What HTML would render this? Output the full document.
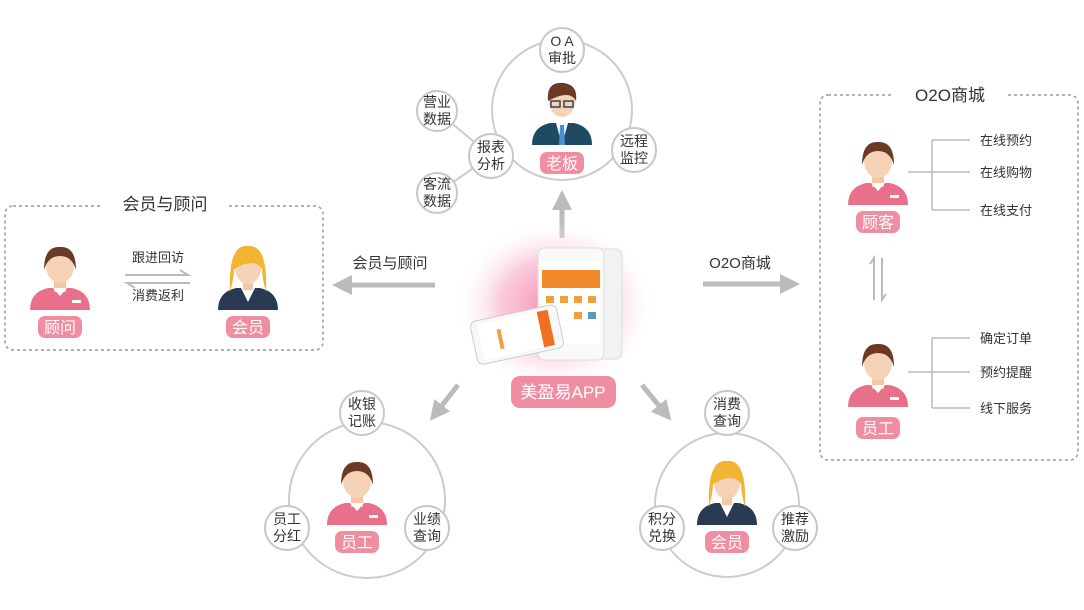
<!DOCTYPE html>
<html><head><meta charset="utf-8"><style>
body{margin:0;background:#fff}
svg{display:block;font-family:"Liberation Sans","Noto Sans CJK SC",sans-serif}
</style></head><body>
<svg width="1084" height="610" viewBox="0 0 1084 610">
<defs>
<radialGradient id="glow"><stop offset="0" stop-color="#f48ab0" stop-opacity="1"/><stop offset=".55" stop-color="#f9bfd4" stop-opacity=".8"/><stop offset="1" stop-color="#fff" stop-opacity="0"/></radialGradient>
<marker id="ah" markerWidth="4" markerHeight="4" refX="2" refY="2" orient="auto" markerUnits="strokeWidth"><path d="M0,0 L4,2 L0,4z" fill="#bbb"/></marker>
<g id="woman"><path d="M-30,30 Q-30,12 -12,8 L12,8 Q30,12 30,30z" fill="#e8708a"/><rect x="-6" y="0" width="12" height="12" fill="#f4c6a6"/><path d="M-7,8 L0,16 L7,8z" fill="#fff"/><ellipse cx="0" cy="-14" rx="14" ry="17" fill="#f6d2b6"/><path d="M-16,-10 Q-16,-34 0,-33 Q16,-34 16,-10 Q12,-24 0,-24 Q-12,-24 -16,-10z" fill="#6b3a24"/><rect x="12" y="20" width="9" height="3" fill="#fff"/></g>
<g id="member"><path d="M-30,30 Q-30,12 -12,8 L12,8 Q30,12 30,30z" fill="#2a3a52"/><path d="M-7,8 L0,22 L7,8z" fill="#fff"/><rect x="-5" y="0" width="10" height="10" fill="#f4c6a6"/><path d="M-18,12 Q-20,-36 0,-34 Q20,-36 18,12 Q14,-2 14,-12 L-14,-12 Q-14,-2 -18,12z" fill="#f2b531"/><ellipse cx="0" cy="-12" rx="13" ry="16" fill="#f6d2b6"/><path d="M-15,-10 Q-14,-32 0,-31 Q15,-32 15,-10 Q6,-24 -15,-10z" fill="#f2b531"/></g>
</defs>
<g fill="none" stroke="#ccc" stroke-width="2">
<circle cx="562" cy="110" r="70"/><circle cx="367" cy="500" r="78"/><circle cx="727" cy="505" r="72"/>
<line x1="437" y1="111" x2="491" y2="156"/><line x1="437" y1="193" x2="491" y2="156"/>
</g>
<g fill="#fff" stroke="#c8c8c8" stroke-width="2">
<circle cx="562" cy="50" r="22"/><circle cx="634" cy="150" r="22"/><circle cx="491" cy="156" r="22"/><circle cx="437" cy="111" r="20"/><circle cx="437" cy="193" r="20"/>
<circle cx="362" cy="413" r="22"/><circle cx="287" cy="528" r="22"/><circle cx="427" cy="528" r="22"/>
<circle cx="727" cy="413" r="22"/><circle cx="662" cy="528" r="22"/><circle cx="795" cy="528" r="22"/>
</g>
<g font-size="14" fill="#333" text-anchor="middle">
<text x="562" y="46">O A</text><text x="562" y="63">审批</text>
<text x="634" y="146">远程</text><text x="634" y="163">监控</text>
<text x="491" y="152">报表</text><text x="491" y="169">分析</text>
<text x="437" y="107">营业</text><text x="437" y="124">数据</text>
<text x="437" y="189">客流</text><text x="437" y="206">数据</text>
<text x="362" y="409">收银</text><text x="362" y="426">记账</text>
<text x="287" y="524">员工</text><text x="287" y="541">分红</text>
<text x="427" y="524">业绩</text><text x="427" y="541">查询</text>
<text x="727" y="409">消费</text><text x="727" y="426">查询</text>
<text x="662" y="524">积分</text><text x="662" y="541">兑换</text>
<text x="795" y="524">推荐</text><text x="795" y="541">激励</text>
</g>
<g transform="translate(562,115)"><path d="M-30,30 Q-30,12 -12,8 L12,8 Q30,12 30,30z" fill="#1f4a63"/><path d="M-6,8 L0,30 L6,8z" fill="#fff"/><path d="M-2,10 L2,10 L3,30 L-3,30z" fill="#4a8fd0"/><ellipse cx="0" cy="-14" rx="13" ry="16" fill="#f6d2b6"/><path d="M-14,-14 Q-16,-34 2,-32 Q16,-30 14,-14 Q8,-26 -14,-14z" fill="#6b3a24"/><rect x="-11" y="-14" width="9" height="6" fill="none" stroke="#345" stroke-width="1.5"/><rect x="2" y="-14" width="9" height="6" fill="none" stroke="#345" stroke-width="1.5"/></g>
<g stroke="#bbb" stroke-width="5" fill="none" marker-end="url(#ah)">
<line x1="562" y1="238" x2="562" y2="200"/>
<line x1="435" y1="285" x2="342" y2="285"/>
<line x1="703" y1="284" x2="790" y2="284"/>
<line x1="458" y1="385" x2="436" y2="413"/>
<line x1="642" y1="385" x2="665" y2="413"/>
</g>
<g stroke="#bbb" stroke-width="2" fill="none">
<path d="M125,275 H188 L180,270"/><path d="M190,283 H127 L135,288"/>
<path d="M874,300 V258 L870,264"/><path d="M882,258 V300 L886,294"/>
</g>
<g font-size="15" fill="#333" text-anchor="middle"><text x="390" y="268">会员与顾问</text><text x="740" y="268">O2O商城</text></g>
<rect x="5" y="206" width="318" height="144" rx="8" fill="none" stroke="#999" stroke-width="1.5" stroke-dasharray="3,3"/>
<rect x="102" y="192" width="126" height="26" fill="#fff"/><text x="165" y="210" font-size="17" fill="#333" text-anchor="middle">会员与顾问</text>
<rect x="820" y="95" width="258" height="365" rx="8" fill="none" stroke="#999" stroke-width="1.5" stroke-dasharray="3,3"/>
<rect x="893" y="82" width="114" height="26" fill="#fff"/><text x="950" y="101" font-size="17" fill="#333" text-anchor="middle">O2O商城</text>
<g font-size="13" fill="#333" text-anchor="middle"><text x="158" y="262">跟进回访</text><text x="158" y="300">消费返利</text></g>
<g stroke="#bbb" stroke-width="1.5" fill="none"><path d="M932,140 H970 M932,172 H970 M932,210 H970 M932,140 V210 M908,172 H932"/><path d="M932,338 H970 M932,372 H970 M932,408 H970 M932,338 V408 M908,372 H932"/></g>
<g font-size="13" fill="#333"><text x="980" y="145">在线预约</text><text x="980" y="177">在线购物</text><text x="980" y="215">在线支付</text><text x="980" y="343">确定订单</text><text x="980" y="377">预约提醒</text><text x="980" y="413">线下服务</text></g>
<use href="#woman" x="60" y="280"/><use href="#member" x="248" y="280"/>
<use href="#woman" x="878" y="175"/><use href="#woman" x="878" y="377"/>
<use href="#woman" x="357" y="495"/><use href="#member" x="727" y="495"/>
<g fill="#ef8ea0"><rect x="38" y="316" width="44" height="22" rx="7"/><rect x="226" y="316" width="44" height="22" rx="7"/><rect x="540" y="152" width="44" height="22" rx="7"/><rect x="856" y="211" width="44" height="22" rx="7"/><rect x="856" y="417" width="44" height="22" rx="7"/><rect x="335" y="531" width="44" height="22" rx="7"/><rect x="705" y="531" width="44" height="22" rx="7"/></g>
<g font-size="16" fill="#fff" text-anchor="middle"><text x="60" y="333">顾问</text><text x="248" y="333">会员</text><text x="562" y="169">老板</text><text x="878" y="228">顾客</text><text x="878" y="434">员工</text><text x="357" y="548">员工</text><text x="727" y="548">会员</text></g>
<ellipse cx="555" cy="305" rx="100" ry="85" fill="url(#glow)"/>
<rect x="590" y="249" width="32" height="110" rx="6" fill="#f2f2f2" stroke="#ddd"/>
<rect x="538" y="248" width="66" height="112" rx="7" fill="#fafafa" stroke="#ddd"/>
<rect x="542" y="262" width="58" height="82" fill="#fff"/><rect x="542" y="270" width="58" height="18" fill="#f28a2a"/>
<g fill="#f0a040"><rect x="546" y="296" width="8" height="7"/><rect x="560" y="296" width="8" height="7"/><rect x="574" y="296" width="8" height="7"/><rect x="588" y="296" width="8" height="7"/><rect x="546" y="312" width="8" height="7"/><rect x="574" y="312" width="8" height="7"/><rect x="588" y="312" width="8" height="7" fill="#59b"/></g>
<g transform="rotate(-12 515 335)"><rect x="473" y="313" width="88" height="44" rx="6" fill="#f8f8f8" stroke="#ccc"/><rect x="480" y="317" width="72" height="36" fill="#fff"/><rect x="541" y="317" width="11" height="36" fill="#f07020"/><rect x="498" y="326" width="4" height="20" fill="#f0a040"/></g>
<rect x="511" y="376" width="105" height="32" rx="9" fill="#ef8ea0"/>
<text x="563" y="398" font-size="17" fill="#fff" text-anchor="middle">美盈易APP</text>
</svg>
</body></html>
